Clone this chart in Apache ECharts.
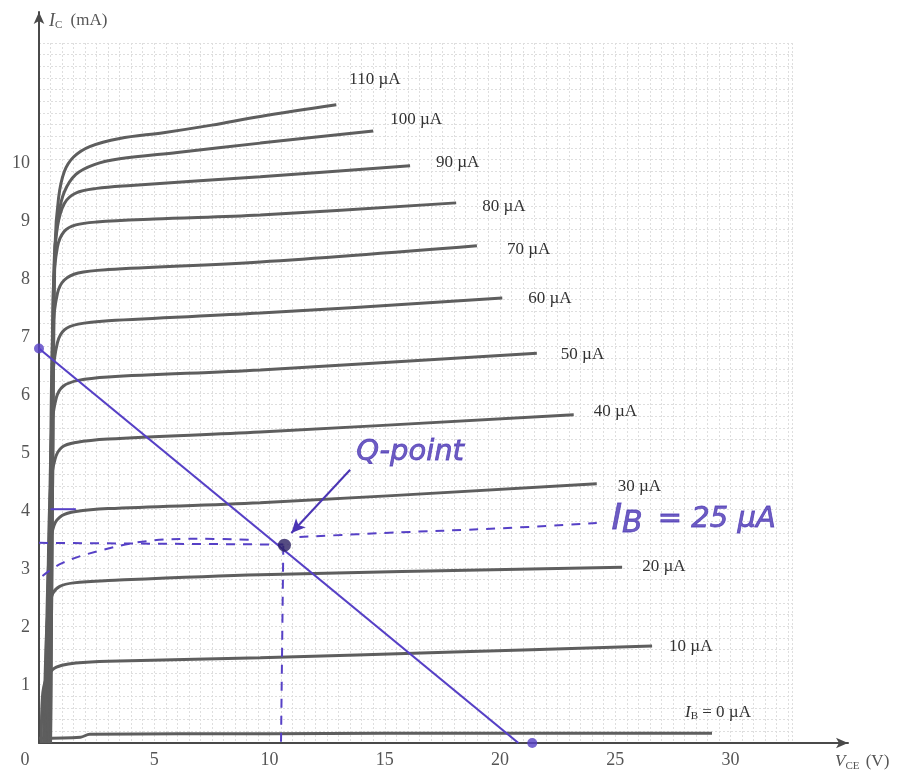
<!DOCTYPE html>
<html>
<head>
<meta charset="utf-8">
<script src="https://cdn.jsdelivr.net/npm/echarts@6/dist/echarts.min.js"></script>
<style>html,body{margin:0;padding:0;background:#fff}#c{width:907px;height:778px}</style>
</head>
<body>
<div id="c"></div>
<script>
// ---- data (V_CE in V, I_C in mA) ----
const ib0   = [[0,0.08],[1.8,0.1],[2.2,0.15],[10,0.16],[20,0.17],[29.2,0.17]];
const ib10  = [[0.1,0],[0.15,0.8],[0.3,1.1],[0.6,1.27],[1.0,1.34],[1.6,1.38],[3,1.41],[9.6,1.47],[18,1.57],[26.6,1.67]];
const ib20  = [[0.2,0],[0.3,1.6],[0.4,2.3],[0.6,2.58],[0.9,2.7],[1.5,2.76],[3,2.8],[9.6,2.9],[25.3,3.03]];
const ib30  = [[0.25,0],[0.35,2.3],[0.45,3.3],[0.65,3.75],[1.0,3.92],[1.6,3.99],[3,4.04],[9.6,4.14],[24.2,4.47]];
const ib40  = [[0.3,0],[0.4,3],[0.5,4.4],[0.7,4.9],[1.0,5.1],[1.6,5.18],[3,5.24],[9.6,5.36],[23.2,5.66]];
const ib50  = [[0.35,0],[0.45,3.5],[0.55,5.4],[0.75,5.95],[1.05,6.15],[1.7,6.25],[3,6.31],[9.6,6.43],[21.6,6.72]];
const ib60  = [[0.4,0],[0.5,4],[0.6,6.3],[0.8,6.9],[1.1,7.12],[1.7,7.22],[3,7.28],[9.6,7.41],[20.1,7.67]];
const ib70  = [[0.4,0],[0.5,4.5],[0.6,7.1],[0.8,7.75],[1.1,7.98],[1.7,8.1],[3,8.16],[9.6,8.29],[19,8.57]];
const ib80  = [[0.45,0],[0.55,5],[0.62,7.8],[0.8,8.55],[1.1,8.82],[1.6,8.93],[2.5,8.98],[5,9.03],[9.6,9.1],[18.1,9.31]];
const ib90  = [[0.45,0],[0.55,5],[0.65,8.2],[0.8,8.9],[1.1,9.3],[1.6,9.48],[2.5,9.56],[4,9.61],[9.6,9.76],[16.1,9.95]];
const ib100 = [[0.5,0],[0.6,5],[0.68,8.4],[0.85,9.1],[1.1,9.5],[1.6,9.8],[2.4,9.97],[3.5,10.07],[6,10.18],[9.6,10.34],[14.5,10.55]];
const ib110 = [[0.5,0],[0.6,5],[0.7,8.6],[0.85,9.4],[1.1,9.85],[1.5,10.1],[2.2,10.28],[3.5,10.42],[5.4,10.52],[7.5,10.65],[9.6,10.8],[12.9,11.0]];
const curveData = [ib0, ib10, ib20, ib30, ib40, ib50, ib60, ib70, ib80, ib90, ib100, ib110];
const curveNames = ['{i|I}{s|B} = 0 µA','10 µA','20 µA','30 µA','40 µA','50 µA','60 µA','70 µA','80 µA','90 µA','100 µA','110 µA'];

const loadLine = [[0,6.8],[20.8,0]];
const loadEnds = [[0,6.8],[21.4,0]];
const qPoint = [[10.65,3.41]];
const qHoriz = [[0,3.45],[10.6,3.42]];
const qVert = [[10.6,3.4],[10.5,0]];
const ib25Left = [[0.15,2.88],[1,3.1],[2.5,3.3],[4.7,3.48],[7,3.52],[9.2,3.5]];
const ib25Right = [[11.3,3.55],[15,3.62],[20,3.7],[24.2,3.79]];
const shortMark = [[0.5,4.03],[1.6,4.03]];
const xTicks = [0,5,10,15,20,25,30];
const yTicks = [1,2,3,4,5,6,7,8,9,10];
const qText = 'Q-point';
const ibText = '{i|I}{s|B} = 25 µA';
const qTextAt = [16.1,5.0];
const ibTextAt = [28.4,3.85];
const arrowFrom = [13.5,4.71];
const arrowTo = [10.95,3.62];

// label offsets [dx, dy] from curve end
const labelOffsets = [[-27,-21],[17,0],[20,-1],[21,3],[20,-3],[24,1],[26,1],[30,4],[26,4],[26,-3],[17,-11],[13,-25]];

const PURPLE = '#5640c6';
const INK = '#4a34b4';
const serif = 'Liberation Serif';

const chart = echarts.init(document.getElementById('c'), null, {renderer:'canvas'});

const series = curveData.map((d, i) => ({
  type: 'line', xAxisIndex: 0, yAxisIndex: 0, data: d,
  smooth: 0.35, showSymbol: false, symbol: 'none',
  lineStyle: {color: '#5e5e5e', width: 3}, z: 3, silent: true,
  endLabel: {
    show: true, formatter: curveNames[i], distance: 0, offset: labelOffsets[i],
    fontFamily: serif, fontSize: 17, color: '#333',
    rich: {i: {fontFamily: serif, fontStyle: 'italic', fontSize: 17, color: '#333'},
           s: {fontFamily: serif, fontSize: 11, color: '#333', verticalAlign: 'bottom', padding: [8,0,0,0]}}
  }
}));

const dashed = {color: PURPLE, width: 2, type: [9, 8]};
const hand = {fontFamily:'DejaVu Sans', fontStyle:'italic', fontWeight:'normal', color: INK, textBorderColor: INK, textBorderWidth: 0.8};
series.push(
  {type:'line', data: loadLine, showSymbol:false, symbol:'none', lineStyle:{color:PURPLE, width:2.2}, z:5, silent:true},
  {type:'scatter', data: loadEnds, symbolSize: 10, itemStyle:{color:PURPLE}, z:6, silent:true},
  {type:'line', data: qHoriz, showSymbol:false, symbol:'none', lineStyle: dashed, z:5, silent:true},
  {type:'line', data: qVert, showSymbol:false, symbol:'none', lineStyle: dashed, z:5, silent:true},
  {type:'line', data: ib25Left, smooth:0.4, showSymbol:false, symbol:'none', lineStyle: dashed, z:5, silent:true},
  {type:'line', data: ib25Right, smooth:0.4, showSymbol:false, symbol:'none', lineStyle: dashed, z:5, silent:true},
  {type:'line', data: shortMark, showSymbol:false, symbol:'none', lineStyle: {color:PURPLE, width:2}, z:5, silent:true},
  {type:'scatter', data: qPoint, symbolSize: 13, itemStyle:{color:'#2a1f63'}, z:7, silent:true},
  {type:'scatter', data: [qTextAt, ibTextAt], symbolSize: 0, z:8, silent:true,
   label: Object.assign({show:true, position:'inside',
     formatter: p => p.dataIndex === 0 ? qText : ibText, fontSize: 29,
     rich: {i: Object.assign({fontSize: 36}, hand),
            s: Object.assign({fontSize: 30, padding:[10,6,0,0]}, hand)}}, hand),
   markLine: {silent:true, symbol:['none','arrow'], symbolSize:[10,14], label:{show:false},
     lineStyle:{color:INK, width:2, type:'solid', curveness:0.12},
     data: [[{coord: arrowFrom}, {coord: arrowTo}]]}
  }
);

const option = {
  backgroundColor: '#fff',
  animation: false,
  grid: [
    {left: 39, right: 59, top: 12, bottom: 35},
    {left: 39, width: 32.7*23.05, bottom: 35, height: 700}
  ],
  xAxis: [
    {type:'value', gridIndex:0, min:0, max:35.1, interval:5,
     axisLine:{show:true, onZero:false, lineStyle:{color:'#4a4a4a', width:2}, symbol:['none','arrow'], symbolSize:[8,12]},
     axisTick:{show:false}, splitLine:{show:false},
     axisLabel:{showMaxLabel:false, margin:8, fontFamily:serif, fontSize:18, color:'#555',
       formatter: v => xTicks.indexOf(v) < 0 ? '' : (v === 0 ? '{z|0}' : String(v)),
       rich:{z:{fontFamily:serif, fontSize:18, color:'#555', padding:[0,28,0,0]}}},
     name:'{i|V}{s|CE} (V)', nameLocation:'end', nameGap:-13,
     nameTextStyle:{fontFamily:serif, fontSize:17, color:'#555', align:'left', verticalAlign:'top', padding:[8,0,0,0],
       rich:{i:{fontFamily:serif, fontStyle:'italic', fontSize:17, color:'#555'},
             s:{fontFamily:serif, fontSize:11, color:'#555', padding:[10,2,0,0]}}}
    },
    {type:'value', gridIndex:1, min:0, max:32.7, interval:0.5, show:true,
     axisLine:{show:false}, axisTick:{show:false}, axisLabel:{show:false},
     splitLine:{show:true, lineStyle:{color:'#dedede', width:1, type:[2,2]}}}
  ],
  yAxis: [
    {type:'value', gridIndex:0, min:0, max:12.6, interval:1,
     axisLine:{show:true, onZero:false, lineStyle:{color:'#4a4a4a', width:2}, symbol:['none','arrow'], symbolSize:[8,12]},
     axisTick:{show:false}, splitLine:{show:false},
     axisLabel:{margin:9, fontFamily:serif, fontSize:18, color:'#555',
       formatter: v => yTicks.indexOf(v) < 0 ? '' : String(v)},
     name:'{i|I}{s|C} (mA)', nameLocation:'end', nameGap:-9,
     nameTextStyle:{fontFamily:serif, fontSize:17, color:'#555', align:'left', verticalAlign:'middle', padding:[0,0,0,10],
       rich:{i:{fontFamily:serif, fontStyle:'italic', fontSize:18, color:'#555'},
             s:{fontFamily:serif, fontSize:11, color:'#555', padding:[8,4,0,0]}}}
    },
    {type:'value', gridIndex:1, min:0, max:12, interval:0.2,
     axisLine:{show:false}, axisTick:{show:false}, axisLabel:{show:false},
     splitLine:{show:true, lineStyle:{color:'#dedede', width:1, type:[2,2]}}}
  ],
  series: series
};
chart.setOption(option);
</script>
</body>
</html>
